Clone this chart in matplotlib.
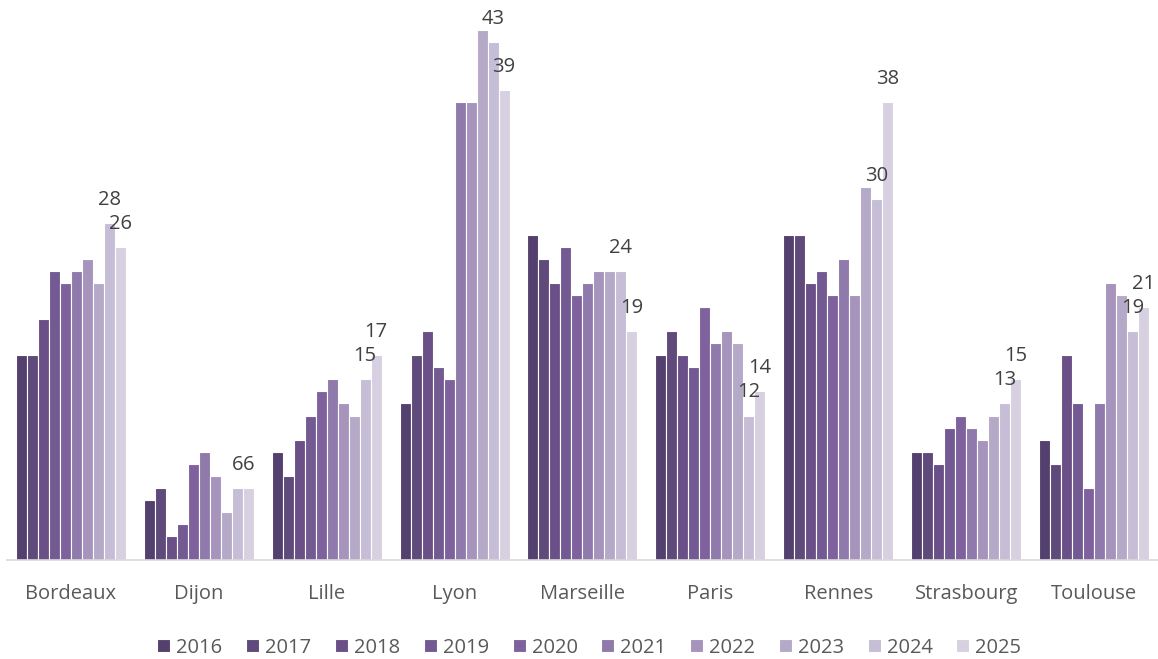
import matplotlib
matplotlib.use("Agg")
import matplotlib.pyplot as plt
import numpy as np

cities = ["Bordeaux", "Dijon", "Lille", "Lyon", "Marseille", "Paris", "Rennes", "Strasbourg", "Toulouse"]
years = ["2016", "2017", "2018", "2019", "2020", "2021", "2022", "2023", "2024", "2025"]

v2016 = [17, 5, 9, 13, 27, 17, 27, 9, 10]
v2017 = [17, 6, 7, 17, 25, 19, 27, 9, 8]
v2018 = [20, 2, 10, 19, 23, 17, 23, 8, 17]
v2019 = [24, 3, 12, 16, 26, 16, 24, 11, 13]
v2020 = [23, 8, 14, 15, 22, 21, 22, 12, 6]
v2021 = [24, 9, 15, 38, 23, 18, 25, 11, 13]
v2022 = [25, 7, 13, 38, 24, 19, 22, 10, 23]
v2023 = [23, 4, 12, 44, 24, 18, 31, 12, 22]
v2024 = [28, 6, 15, 43, 24, 12, 30, 13, 19]
v2025 = [26, 6, 17, 39, 19, 14, 38, 15, 21]
series = [v2016, v2017, v2018, v2019, v2020, v2021, v2022, v2023, v2024, v2025]
labelled_years = ["2024", "2025"]

colors = ["#54406e", "#5f4a7b", "#6a5087", "#745a93", "#7f629d", "#8f7aab",
          "#a694bc", "#b5a9c8", "#c6bdd6", "#d6d0e1"]

plt.rcParams['font.family'] = ['Open Sans', 'DejaVu Sans']
fig = plt.figure(figsize=(11.58, 6.59), dpi=100)
ax = fig.add_axes([0.006, 0.150, 0.994, 0.823])

x = np.arange(len(cities))
n = len(series)
group = 0.86
w = group / n
for i, (yr, vals) in enumerate(zip(years, series)):
    pos = x - group / 2 + w * (i + 0.5)
    ax.bar(pos, vals, width=w, color=colors[i], edgecolor="white", linewidth=0.8, label=yr)
    if yr in labelled_years:
        for p, v in zip(pos, vals):
            ax.annotate(str(v), (p, v), xytext=(0, 13), textcoords="offset points",
                        ha="center", va="baseline", fontsize=14.5, color="#404040",
                        annotation_clip=False)

ax.set_xlim(-0.5, len(cities) - 0.5)
ax.set_ylim(0, 45)
ax.set_xticks(x)
ax.set_xticklabels(cities, fontsize=14.5, color="#595959")
ax.tick_params(axis="x", length=0, pad=17)
ax.set_yticks([])
for s in ["top", "right", "left"]:
    ax.spines[s].set_visible(False)
ax.spines["bottom"].set_color("#d9d9d9")
ax.spines["bottom"].set_linewidth(1.2)

leg = fig.legend(loc="center", bbox_to_anchor=(0.509, 0.017), ncol=10, frameon=False,
                 fontsize=14.5, handlelength=0.65, handleheight=0.65, handletextpad=0.3,
                 columnspacing=1.17)
for t in leg.get_texts():
    t.set_color("#595959")

fig.savefig("out.png", dpi=100)
